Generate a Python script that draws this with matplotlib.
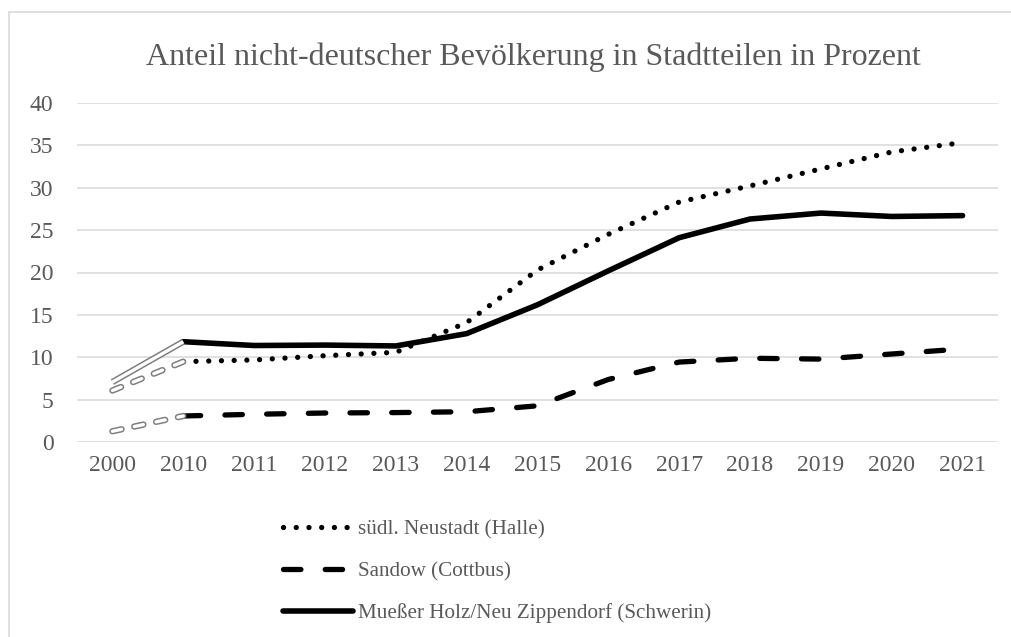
import matplotlib.pyplot as plt
import matplotlib.patheffects as pe
from matplotlib.patches import Rectangle

plt.rcParams['font.family'] = ['Liberation Serif', 'DejaVu Serif']

# Data (share of non-German population, percent)
years = ['2000', '2010', '2011', '2012', '2013', '2014', '2015',
         '2016', '2017', '2018', '2019', '2020', '2021']
neustadt = [6.1, 9.5, 9.7, 10.2, 10.6, 14.1, 20.3, 24.5, 28.3, 30.2, 32.2, 34.2, 35.3]
sandow = [1.3, 3.1, 3.3, 3.45, 3.5, 3.6, 4.3, 7.4, 9.45, 9.9, 9.8, 10.4, 11.0]
muesser = [7.1, 11.85, 11.4, 11.45, 11.35, 12.8, 16.2, 20.2, 24.1, 26.3, 27.0, 26.6, 26.7]

labels = ['südl. Neustadt (Halle)', 'Sandow (Cottbus)',
          'Mueßer Holz/Neu Zippendorf (Schwerin)']
text_col = '#595959'

fig = plt.figure(figsize=(10.12, 6.37), dpi=100)
fig.patches.append(Rectangle((9 / 1012, -0.05), 1.1, 1 - 12 / 637 + 0.05,
                             transform=fig.transFigure, fill=False,
                             edgecolor='#d9d9d9', linewidth=1.2))

ax = fig.add_axes([77 / 1012, 1 - 442.3 / 637, (998 - 77) / 1012, (442.3 - 102.7) / 637])
x = list(range(len(years)))

lw = 3.8
dot = (0.01, 2.4)
dash = (3.3, 4.6)

# black lines from 2010 on
ax.plot(x[1:], neustadt[1:], color='black', lw=lw, dashes=dot,
        dash_capstyle='round', label=labels[0])
ax.plot(x[1:], sandow[1:], color='black', lw=lw, dashes=dash,
        dash_capstyle='round', label=labels[1])
ax.plot(x[1:], muesser[1:], color='black', lw=lw + 0.2,
        solid_capstyle='round', solid_joinstyle='round', label=labels[2])

# 2000 -> 2010 segments drawn as grey outlined lines
outline = [pe.Stroke(linewidth=4.6, foreground='#7f7f7f'),
           pe.Stroke(linewidth=2.4, foreground='white')]
for vals in (neustadt, sandow):
    ax.plot(x[:2], vals[:2], color='white', lw=2.4, dashes=(2.8, 3.9),
            dash_capstyle='round', path_effects=outline)
ax.plot(x[:2], muesser[:2], color='white', lw=2.4,
        solid_capstyle='butt', path_effects=outline)

ax.set_xlim(-0.5, 12.5)
ax.set_ylim(0, 40)
ax.set_yticks(range(0, 41, 5))
ax.set_xticks(x)
ax.set_xticklabels(years)
ax.grid(axis='y', color='#d9d9d9', linewidth=1.1)
ax.set_axisbelow(True)
for s in ax.spines.values():
    s.set_visible(False)
ax.tick_params(length=0, labelsize=17, colors=text_col)
ax.tick_params(axis='y', pad=17)
ax.tick_params(axis='x', pad=9)

fig.text(533 / 1012, 1 - 57 / 637, 'Anteil nicht-deutscher Bevölkerung in Stadtteilen in Prozent',
         ha='center', va='center', fontsize=23, color=text_col)

leg = ax.legend(loc='upper left', bbox_to_anchor=(283 / 1012, 1 - 520 / 637),
                bbox_transform=fig.transFigure, frameon=False, fontsize=15.2,
                handlelength=3.3, handletextpad=0.25, labelspacing=1.03,
                borderpad=0, borderaxespad=0)
for t in leg.get_texts():
    t.set_color(text_col)

fig.savefig('out.png', dpi=100)
